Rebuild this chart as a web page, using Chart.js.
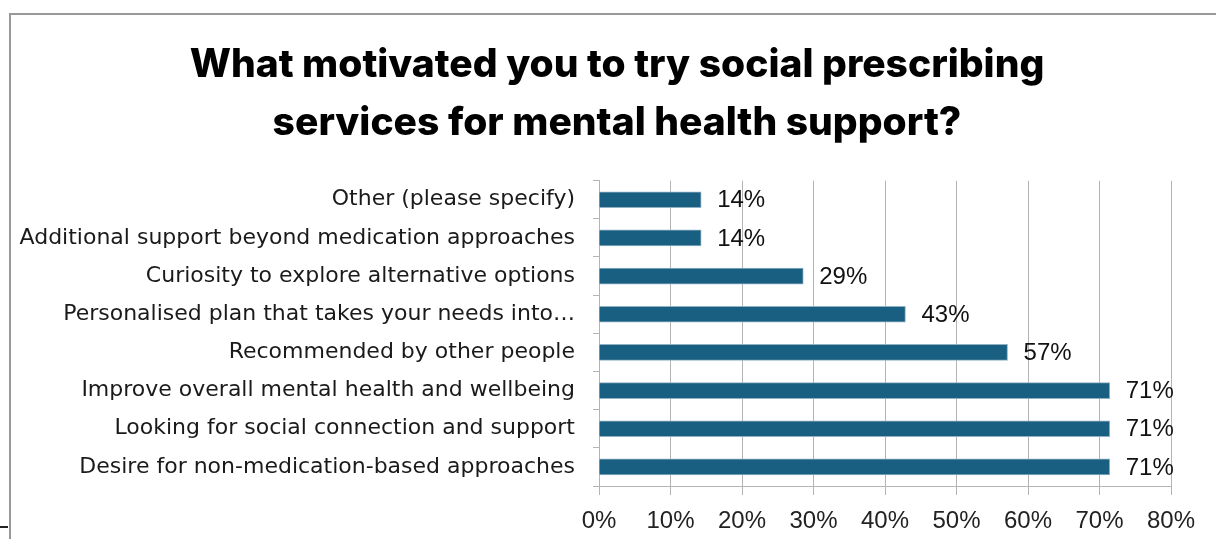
<!DOCTYPE html>
<html>
<head>
<meta charset="utf-8">
<script src="https://cdn.jsdelivr.net/npm/chart.js@4/dist/chart.umd.min.js"></script>
<style>
  html, body { margin: 0; padding: 0; background: #fff; }
  #wrap { position: relative; width: 1216px; height: 539px; overflow: hidden; }
  #frame { position: absolute; left: 9px; top: 13px; right: -5px; bottom: -5px;
           border-top: 2px solid #999; border-left: 2px solid #999; }
  #mark { position: absolute; left: 0; top: 526px; width: 8px; height: 2px; background: #222; }
  canvas { position: absolute; left: 0; top: 0; }
</style>
</head>
<body>
<div id="wrap">
  <div id="frame"></div>
  <div id="mark"></div>
  <canvas id="motivationChart" width="1216" height="539"></canvas>
</div>
<script>
// Survey answers, listed top to bottom
const reasons = [
  "Other (please specify)",
  "Additional support beyond medication approaches",
  "Curiosity to explore alternative options",
  "Personalised plan that takes your needs into…",
  "Recommended by other people",
  "Improve overall mental health and wellbeing",
  "Looking for social connection and support",
  "Desire for non-medication-based approaches"
];
// Share of respondents (%)
const shares = [14.29, 14.29, 28.57, 42.86, 57.14, 71.43, 71.43, 71.43];
const titleLines = [
  "What motivated you to try social prescribing",
  "services for mental health support?"
];

// Percent labels to the right of each bar
const barLabels = {
  id: "barLabels",
  afterDatasetsDraw(chart) {
    const ctx = chart.ctx;
    const meta = chart.getDatasetMeta(0);
    ctx.save();
    ctx.font = "24px 'Liberation Sans', Arial, sans-serif";
    ctx.fillStyle = "#111";
    ctx.textAlign = "left";
    ctx.textBaseline = "middle";
    meta.data.forEach((bar, i) => {
      ctx.fillText(Math.round(shares[i]) + "%", bar.x + 16, bar.y + 1);
    });
    ctx.restore();
  }
};

const ctx = document.getElementById("motivationChart").getContext("2d");
const chart = new Chart(ctx, {
  type: "bar",
  data: {
    labels: reasons,
    datasets: [
      {
        data: shares,
        backgroundColor: "#185f81",
        borderColor: "#8fb1c3",
        borderWidth: 1,
        borderSkipped: "start",
        barThickness: 16,
      },
    ],
  },
  options: {
    indexAxis: "y",
    responsive: false,
    animation: false,
    layout: { padding: { left: 18, right: 0, top: 0, bottom: 0 } },
    plugins: {
      legend: { display: false },
      tooltip: { enabled: false },
      title: {
        display: true,
        text: titleLines,
        color: "#000",
        font: { family: "Inter, 'Noto Sans', sans-serif", size: 39, weight: "800", lineHeight: 1.47 },
        padding: { top: 37, bottom: 29 },
      },
    },
    scales: {
      x: {
        min: 0,
        max: 80,
        ticks: {
          stepSize: 10,
          callback: (v) => v + "%",
          color: "#222",
          padding: 12,
          font: { family: "'Liberation Sans', Arial, sans-serif", size: 24 },
        },
        grid: { color: "#b4b4b4", lineWidth: 1, tickLength: 9 },
        border: { color: "#b4b4b4" },
        afterFit(scale) { scale.height = 53; },
      },
      y: {
        ticks: {
          color: "#1a1a1a",
          padding: 18,
          font: { family: "'DejaVu Sans', sans-serif", size: 22 },
        },
        grid: { drawOnChartArea: false, color: "#b4b4b4", tickLength: 6 },
        border: { color: "#b4b4b4" },
        afterFit(scale) { scale.width = 581; },
      },
      // empty right-hand axis that only reserves room for the end labels
      spacer: {
        type: "linear",
        axis: "y",
        position: "right",
        ticks: { display: false },
        grid: { display: false, drawTicks: false },
        border: { display: false },
        afterFit(scale) { scale.width = 45; },
      },
    },
  },
  plugins: [barLabels],
});
</script>
</body>
</html>
